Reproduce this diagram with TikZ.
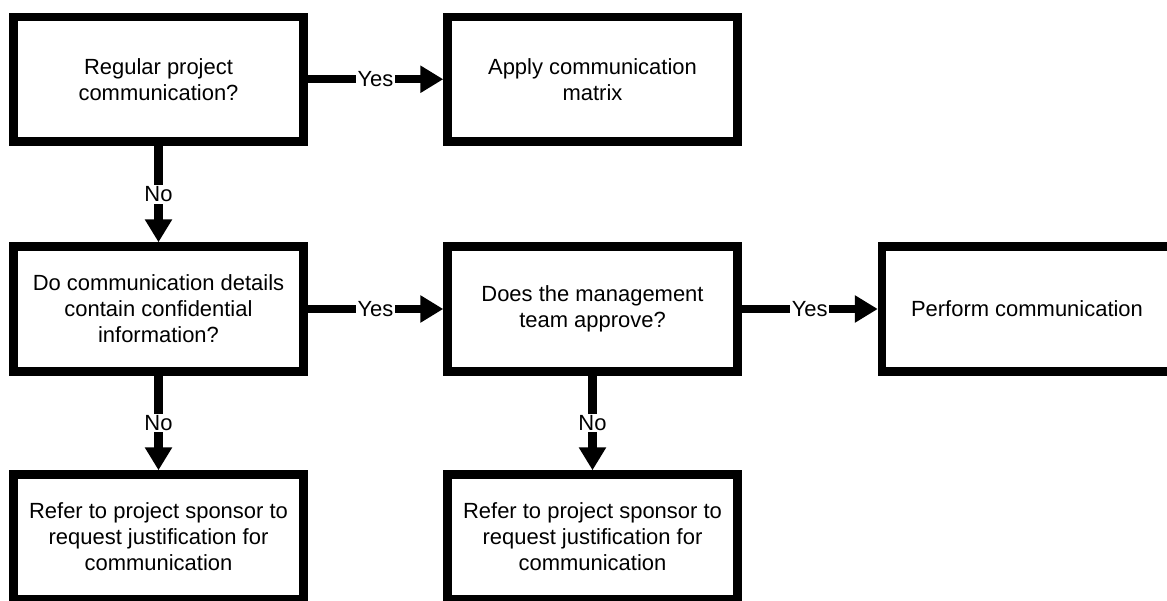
\documentclass[tikz,border=0pt]{standalone}
\usepackage{fontspec}
\setmainfont{Liberation Sans}
\usetikzlibrary{arrows.meta}
\begin{document}
\begin{tikzpicture}[x=0.02cm, y=-0.02cm,
  stepbox/.style={draw=black, line width=0.17cm, minimum width=5.8cm,
    minimum height=2.5cm, align=center, inner sep=0pt,
    font=\fontsize{12.5}{14.8}\selectfont},
  flow/.style={line width=0.17cm, -{Triangle[length=0.46cm,width=0.52cm]}},
  lbl/.style={fill=white, inner sep=1pt, font=\fontsize{12.5}{14.8}\selectfont}]
\useasboundingbox (0,0) rectangle (1167,601);
\clip (0,0) rectangle (1167,601);
\fill[white] (0,0) rectangle (1167,601);

% decision and action boxes
\node[stepbox] (q1) at (158.5,79.25) {Regular project\\communication?};
\node[stepbox] (a1) at (592.5,79.25) {Apply communication\\matrix};
\node[stepbox] (q2) at (158.5,309) {Do communication details\\contain confidential\\information?};
\node[stepbox] (q3) at (592.5,309) {Does the management\\team approve?};
\node[stepbox] (a2) at (1027,309) {Perform communication};
\node[stepbox] (r1) at (158.5,537) {Refer to project sponsor to\\request justification for\\communication};
\node[stepbox] (r2) at (592.5,537) {Refer to project sponsor to\\request justification for\\communication};

% connectors
\draw[flow] (q1) -- node[lbl]{Yes} (a1);
\draw[flow] (q1) -- node[lbl]{No} (q2);
\draw[flow] (q2) -- node[lbl]{Yes} (q3);
\draw[flow] (q3) -- node[lbl]{Yes} (a2);
\draw[flow] (q2) -- node[lbl]{No} (r1);
\draw[flow] (q3) -- node[lbl]{No} (r2);
\end{tikzpicture}
\end{document}
